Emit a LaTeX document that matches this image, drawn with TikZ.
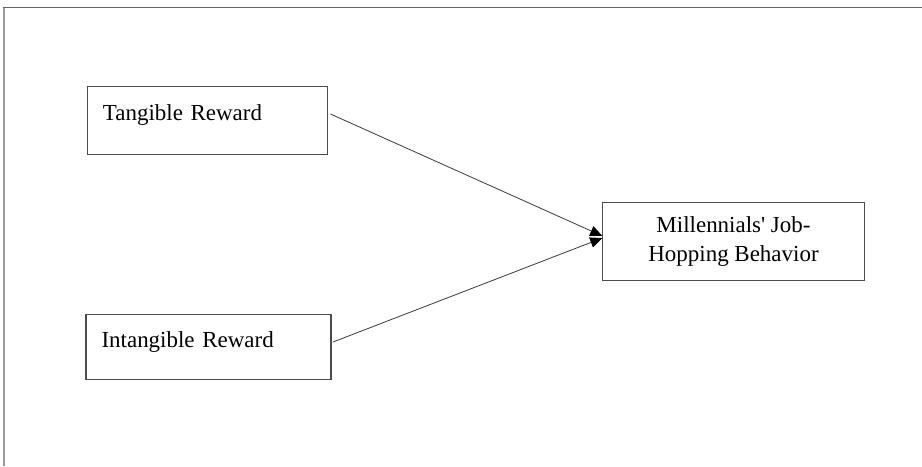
\documentclass[tikz,border=0pt]{standalone}
\usepackage{fontspec}
\setmainfont{Liberation Serif}
\usetikzlibrary{arrows.meta}

\begin{document}
\begin{tikzpicture}[x=0.54pt, y=-0.54pt,
    factor/.style={draw=black!70, line width=0.55pt, rectangle, inner ysep=0pt,
      font=\fontsize{12.4}{15.6}\selectfont},
    link/.style={draw=black!75, line width=0.45pt,
      -{Triangle[length=6.6pt, width=5.6pt, color=black]}}]
    \useasboundingbox (0,0) rectangle (922,466);

    % frame: only top and left edges show
    \draw[black!60, line width=0.8pt] (3,7.5) -- (922,7.5);
    \draw[black!40, line width=1.2pt] (4,7.5) -- (4,466);

    \node[factor, inner xsep=8.6pt, text width=112.9pt, align=left,
      text height=18.6pt, text depth=18.6pt] (tang) at (207.5,120.5) {Tangible Reward};
    \node[factor, inner xsep=8.4pt, text width=115.5pt, align=left,
      text height=17.3pt, text depth=17.3pt] (intang) at (208.5,347) {Intangible Reward};
    \node[factor, inner sep=0pt, minimum width=141pt, minimum height=41.6pt,
      align=center] (hop) at (733.5,241.5) {Millennials\textquotesingle{} Job-\\Hopping Behavior};

    \draw[link] ([shift={(2,-6.5)}]tang.east) -- ([shift={(0,-5.5)}]hop.west);
    \draw[link] ([shift={(1.5,-5)}]intang.east) -- ([shift={(0,-3.5)}]hop.west);
\end{tikzpicture}
\end{document}
